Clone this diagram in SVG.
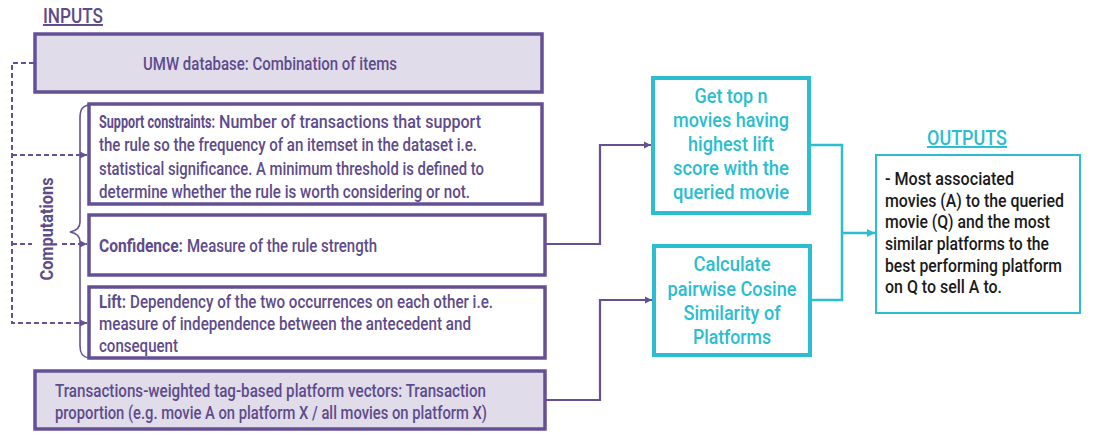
<svg xmlns="http://www.w3.org/2000/svg" width="1094" height="447" viewBox="0 0 1094 447">
<style>
text{font-family:Roboto,"Liberation Sans",sans-serif;font-weight:500;}
.pbox{fill:#ffffff;stroke:#654f95;stroke-width:3.5;}
.ibox{fill:#e0dcea;stroke:#654f95;stroke-width:3.5;}
.tbox{fill:#ffffff;stroke:#2bbdd0;stroke-width:4;}
.obox{fill:#ffffff;stroke:#2bbdd0;stroke-width:2;}
.pt{fill:#5e4b8b;font-size:18px;}
.b{font-weight:bold;}
.tt{fill:#2bbdd0;font-size:21px;text-anchor:middle;}
.ot{fill:#1a1a1a;font-size:17.5px;}
.hd{font-size:19.5px;text-decoration:underline;}
.pline{fill:none;stroke:#654f95;stroke-width:2.2;}
.dline{fill:none;stroke:#654f95;stroke-width:2;stroke-dasharray:5,3;}
.tline{fill:none;stroke:#2bbdd0;stroke-width:2.5;}
</style>
<defs>
<marker id="ap" markerWidth="8" markerHeight="8" refX="7" refY="4" orient="auto" markerUnits="userSpaceOnUse"><path d="M0,0.5 L7,4 L0,7.5 Z" fill="#654f95"/></marker>
<marker id="at" markerWidth="9" markerHeight="9" refX="8" refY="4.5" orient="auto" markerUnits="userSpaceOnUse"><path d="M0,0.5 L8,4.5 L0,8.5 Z" fill="#2bbdd0"/></marker>
</defs>

<text class="hd" x="43" y="23" fill="#5e4b8b" textLength="60" lengthAdjust="spacingAndGlyphs">INPUTS</text>
<text class="hd" x="967" y="145" fill="#2bbdd0" text-anchor="middle" textLength="80" lengthAdjust="spacingAndGlyphs">OUTPUTS</text>

<g id="connectors">
<path class="dline" d="M34,63 H12 V323 H87" marker-end="url(#ap)"/>
<path class="dline" d="M12,155 H87" marker-end="url(#ap)"/>
<path class="dline" d="M12,244 H32"/>
<path class="dline" d="M62,244 H87" marker-end="url(#ap)"/>
<path class="pline" d="M545,244 H600 V145 H651" marker-end="url(#ap)"/>
<path class="pline" d="M545,400 H600 V300 H652" marker-end="url(#ap)"/>
<path class="tline" d="M810,145 H842 V300 H810"/>
<path class="tline" d="M842,233 H875" marker-end="url(#at)"/>
</g>

<g id="brace">
<path d="M89,105 C82,106 80,110 80,118 V222 C80,228 76,231 70,232 C76,233 80,236 80,242 V346 C80,353 82,357 89,358" fill="none" stroke="#654f95" stroke-width="1.6"/>
<text class="pt b" transform="translate(53,229) rotate(-90)" text-anchor="middle" font-size="18.5" textLength="103" lengthAdjust="spacingAndGlyphs">Computations</text>
</g>

<g id="umw">
<rect class="ibox" x="35" y="34" width="507" height="58"/>
<text class="pt" x="143" y="70" textLength="254" lengthAdjust="spacingAndGlyphs">UMW database: Combination of items</text>
</g>

<g id="support">
<rect class="pbox" x="89" y="104" width="453" height="100"/>
<text class="pt b" x="99" y="128" textLength="116" lengthAdjust="spacingAndGlyphs">Support constraints:</text>
<text class="pt" x="219" y="128" textLength="262" lengthAdjust="spacingAndGlyphs">Number of transactions that support</text>
<text class="pt" x="99" y="151" textLength="378" lengthAdjust="spacingAndGlyphs">the rule so the frequency of an itemset in the dataset i.e.</text>
<text class="pt" x="99" y="175" textLength="385" lengthAdjust="spacingAndGlyphs">statistical significance. A minimum threshold is defined to</text>
<text class="pt" x="99" y="198" textLength="371" lengthAdjust="spacingAndGlyphs">determine whether the rule is worth considering or not.</text>
</g>

<g id="confidence">
<rect class="pbox" x="89" y="215" width="456" height="60"/>
<text class="pt b" x="99" y="252" textLength="84" lengthAdjust="spacingAndGlyphs">Confidence:</text>
<text class="pt" x="187" y="252" textLength="190" lengthAdjust="spacingAndGlyphs">Measure of the rule strength</text>
</g>

<g id="lift">
<rect class="pbox" x="89" y="287" width="456" height="71"/>
<text class="pt b" x="99" y="308" textLength="27" lengthAdjust="spacingAndGlyphs">Lift:</text>
<text class="pt" x="130" y="308" textLength="363" lengthAdjust="spacingAndGlyphs">Dependency of the two occurrences on each other i.e.</text>
<text class="pt" x="99" y="330" textLength="372" lengthAdjust="spacingAndGlyphs">measure of independence between the antecedent and</text>
<text class="pt" x="99" y="352" textLength="79" lengthAdjust="spacingAndGlyphs">consequent</text>
</g>

<g id="transactions">
<rect class="ibox" x="35" y="371" width="510" height="58"/>
<text class="pt" x="55" y="397" textLength="431" lengthAdjust="spacingAndGlyphs">Transactions-weighted tag-based platform vectors: Transaction</text>
<text class="pt" x="55" y="419" textLength="432" lengthAdjust="spacingAndGlyphs">proportion (e.g. movie A on platform X / all movies on platform X)</text>
</g>

<g id="topn">
<rect class="tbox" x="653" y="78" width="156" height="135"/>
<text class="tt" x="731" y="103" textLength="73" lengthAdjust="spacingAndGlyphs">Get top n</text>
<text class="tt" x="731" y="127" textLength="116" lengthAdjust="spacingAndGlyphs">movies having</text>
<text class="tt" x="731" y="151" textLength="86" lengthAdjust="spacingAndGlyphs">highest lift</text>
<text class="tt" x="731" y="175" textLength="116" lengthAdjust="spacingAndGlyphs">score with the</text>
<text class="tt" x="731" y="199" textLength="116" lengthAdjust="spacingAndGlyphs">queried movie</text>
</g>

<g id="cosine">
<rect class="tbox" x="654" y="246" width="156" height="109"/>
<text class="tt" x="732" y="271" textLength="77" lengthAdjust="spacingAndGlyphs">Calculate</text>
<text class="tt" x="732" y="296" textLength="129" lengthAdjust="spacingAndGlyphs">pairwise Cosine</text>
<text class="tt" x="732" y="320" textLength="97" lengthAdjust="spacingAndGlyphs">Similarity of</text>
<text class="tt" x="732" y="344" textLength="78" lengthAdjust="spacingAndGlyphs">Platforms</text>
</g>

<g id="outputs">
<rect class="obox" x="876" y="155" width="204" height="158"/>
<text class="ot" x="885" y="185" textLength="129" lengthAdjust="spacingAndGlyphs">- Most associated</text>
<text class="ot" x="885" y="207" textLength="179" lengthAdjust="spacingAndGlyphs">movies (A) to the queried</text>
<text class="ot" x="885" y="228" textLength="165" lengthAdjust="spacingAndGlyphs">movie (Q) and the most</text>
<text class="ot" x="885" y="250" textLength="164" lengthAdjust="spacingAndGlyphs">similar platforms to the</text>
<text class="ot" x="885" y="272" textLength="177" lengthAdjust="spacingAndGlyphs">best performing platform</text>
<text class="ot" x="885" y="293" textLength="117" lengthAdjust="spacingAndGlyphs">on Q to sell A to.</text>
</g>
</svg>
